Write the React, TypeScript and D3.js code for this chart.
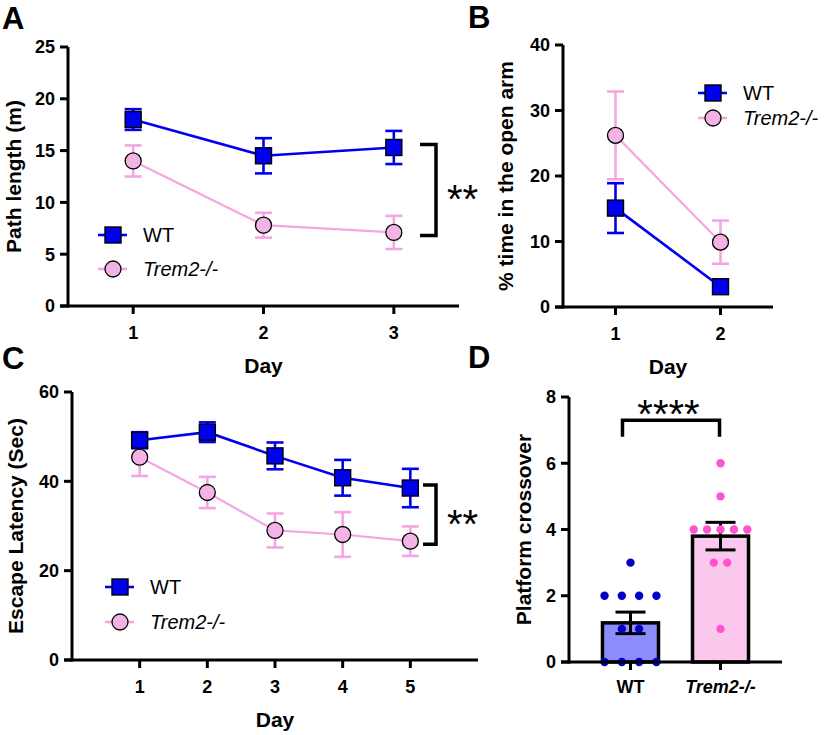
import React from 'react'
import * as d3 from 'd3'

// A: open field, path length (m)
const daysA = [1, 2, 3]
const pathWT = [18.0, 14.5, 15.3]
const pathWTsem = [1.0, 1.7, 1.6]
const pathKO = [14.0, 7.8, 7.1]
const pathKOsem = [1.5, 1.2, 1.6]
const ticksA = [0, 5, 10, 15, 20, 25]

// B: elevated plus maze, % time in open arm
const daysB = [1, 2]
const openWT = [15.1, 3.1]
const openWTsem = [3.8, 0.5]
const openKO = [26.2, 9.9]
const openKOsem = [6.7, 3.3]
const ticksB = [0, 10, 20, 30, 40]

// C: water maze escape latency (sec)
const daysC = [1, 2, 3, 4, 5]
const latWT = [49.2, 51.0, 45.7, 40.8, 38.5]
const latWTsem = [1.8, 2.2, 3.0, 4.0, 4.3]
const latKO = [45.4, 37.5, 29.0, 28.1, 26.6]
const latKOsem = [4.2, 3.5, 3.8, 5.0, 3.3]
const ticksC = [0, 20, 40, 60]

// D: platform crossover, individual animals
const groupsD = ['WT', 'Trem2-/-']
const crossWT = [3, 2, 2, 2, 2, 1, 1, 0, 0, 0, 0]
const crossKO = [6, 5, 4, 4, 4, 4, 4, 3, 3, 1]
const ticksD = [0, 2, 4, 6, 8]

const FONT = "'Liberation Sans', Arial, Helvetica, sans-serif"
const BLUE = '#0000f0'
const PINK = '#f5a6e2'
const PINK_FILL = '#f4b3e5'
const DOT_WT = '#0000c8'
const DOT_KO = '#ff52cf'
const BAR_WT = '#8c8cff'
const BAR_KO = '#f9c8ec'

type Series = {
  name: string
  mean: number[]
  sem: number[]
  kind: 'square' | 'circle'
}

const Marker = ({ kind, cx, cy }: { kind: string; cx: number; cy: number }) =>
  kind === 'square' ? (
    <rect x={cx - 8} y={cy - 8} width={16} height={16} fill={BLUE} stroke="#000" strokeWidth={1.4} />
  ) : (
    <circle cx={cx} cy={cy} r={8} fill={PINK_FILL} stroke="#000" strokeWidth={1.3} />
  )

interface LineProps {
  letter: string
  letterX: number
  letterY: number
  xRange: [number, number]
  yRange: [number, number]
  xDomain: [number, number]
  yDomain: [number, number]
  days: number[]
  yTicks: number[]
  yTitle: string
  yTitleX: number
  series: Series[]
  legendX: number
  legendY: number
  legendGap: number
  bracketX?: [number, number]
}

const LinePanel = (p: LineProps) => {
  const x = d3.scaleLinear().domain(p.xDomain).range(p.xRange)
  const y = d3.scaleLinear().domain(p.yDomain).range(p.yRange)
  const x0 = p.xRange[0]
  const yb = p.yRange[0]
  const yt = p.yRange[1]

  const line = d3.line<number>().x((_, i) => x(p.days[i])).y(d => y(d))

  // draw knockout first so WT sits on top
  const order = [...p.series].reverse()

  return (
    <g fontFamily={FONT}>
      <text x={p.letterX} y={p.letterY} fontSize={31} fontWeight="bold">{p.letter}</text>

      {/* axes */}
      <line x1={x0} x2={x0} y1={yt} y2={yb + 1.5} stroke="#000" strokeWidth={3} />
      <line x1={x0 - 8} x2={p.xRange[1]} y1={yb} y2={yb} stroke="#000" strokeWidth={3} />
      {p.yTicks.map(t => (
        <g key={t}>
          <line x1={x0 - 8} x2={x0} y1={y(t)} y2={y(t)} stroke="#000" strokeWidth={3} />
          <text x={x0 - 13} y={y(t)} dy="0.36em" textAnchor="end" fontSize={18} fontWeight="bold">{t}</text>
        </g>
      ))}
      {p.days.map(d => (
        <g key={d}>
          <line x1={x(d)} x2={x(d)} y1={yb} y2={yb + 8} stroke="#000" strokeWidth={3} />
          <text x={x(d)} y={yb + 27} dy="0.36em" textAnchor="middle" fontSize={18} fontWeight="bold">{d}</text>
        </g>
      ))}
      <text x={(p.xRange[0] + p.xRange[1]) / 2} y={yb + 59} dy="0.36em" textAnchor="middle" fontSize={21} fontWeight="bold">Day</text>
      <text
        transform={`translate(${p.yTitleX},${(yt + yb) / 2}) rotate(-90)`}
        dy="0.36em"
        textAnchor="middle"
        fontSize={21}
        fontWeight="bold"
      >
        {p.yTitle}
      </text>

      {/* error bars, lines, markers */}
      {order.map(s => {
        const col = s.kind === 'square' ? BLUE : PINK
        return (
          <g key={s.name}>
            {s.mean.map((m, i) => (
              <g key={i} stroke={col} strokeWidth={2.6}>
                <line x1={x(p.days[i])} x2={x(p.days[i])} y1={y(m - s.sem[i])} y2={y(m + s.sem[i])} />
                <line x1={x(p.days[i]) - 8.5} x2={x(p.days[i]) + 8.5} y1={y(m - s.sem[i])} y2={y(m - s.sem[i])} />
                <line x1={x(p.days[i]) - 8.5} x2={x(p.days[i]) + 8.5} y1={y(m + s.sem[i])} y2={y(m + s.sem[i])} />
              </g>
            ))}
            <path d={line(s.mean) || ''} fill="none" stroke={col} strokeWidth={s.kind === 'square' ? 2.6 : 2.2} />
            {s.mean.map((m, i) => (
              <Marker key={i} kind={s.kind} cx={x(p.days[i])} cy={y(m)} />
            ))}
          </g>
        )
      })}

      {/* legend */}
      {p.series.map((s, i) => {
        const ly = p.legendY + i * p.legendGap
        const col = s.kind === 'square' ? BLUE : PINK
        return (
          <g key={s.name}>
            <line x1={p.legendX - 15} x2={p.legendX + 14} y1={ly} y2={ly} stroke={col} strokeWidth={2.6} />
            <Marker kind={s.kind} cx={p.legendX} cy={ly} />
            <text
              x={p.legendX + 30}
              y={ly}
              dy="0.36em"
              fontSize={20}
              fontStyle={s.kind === 'circle' ? 'italic' : 'normal'}
            >
              {s.name}
            </text>
          </g>
        )
      })}

      {/* significance bracket */}
      {p.bracketX && (() => {
        const top = y(p.series[0].mean[p.series[0].mean.length - 1]) - 3
        const bot = y(p.series[1].mean[p.series[1].mean.length - 1]) + 3
        const [bx0, bx1] = p.bracketX
        return (
          <g>
            <path d={`M${bx0},${top}H${bx1}V${bot}H${bx0}`} fill="none" stroke="#000" strokeWidth={3.5} />
            <text x={bx1 + 11} y={(top + bot) / 2 + 23} fontSize={40}>**</text>
          </g>
        )
      })()}
    </g>
  )
}

const mean = (v: number[]) => d3.mean(v) as number
const sem = (v: number[]) => (d3.deviation(v) as number) / Math.sqrt(v.length)

const BarPanel = () => {
  const xr: [number, number] = [569, 782]
  const yr: [number, number] = [662, 397]
  const x = d3.scalePoint<string>().domain(groupsD).range(xr).padding(0.683)
  const y = d3.scaleLinear().domain([0, 8]).range(yr)
  const barW = 56
  const groups = [
    { name: groupsD[0], vals: crossWT, fill: BAR_WT, dot: DOT_WT, step: 17.3 },
    { name: groupsD[1], vals: crossKO, fill: BAR_KO, dot: DOT_KO, step: 13.4 },
  ]
  const x0 = xr[0]
  const yb = yr[0]

  return (
    <g fontFamily={FONT}>
      <text x={468} y={368} fontSize={31} fontWeight="bold">D</text>

      {groups.map(g => {
        const cx = x(g.name) as number
        const m = mean(g.vals)
        const e = sem(g.vals)
        // spread equal values sideways
        const byVal = d3.group(g.vals, v => v)
        const dots: { v: number; dx: number }[] = []
        byVal.forEach((arr, v) => {
          arr.forEach((_, i) => dots.push({ v, dx: (i - (arr.length - 1) / 2) * g.step }))
        })
        return (
          <g key={g.name}>
            <rect x={cx - barW / 2} y={y(m)} width={barW} height={yb - y(m)} fill={g.fill} stroke="#000" strokeWidth={3.5} />
            <g stroke="#000" strokeWidth={3}>
              <line x1={cx} x2={cx} y1={y(m - e)} y2={y(m + e)} />
              <line x1={cx - 15} x2={cx + 15} y1={y(m - e)} y2={y(m - e)} />
              <line x1={cx - 15} x2={cx + 15} y1={y(m + e)} y2={y(m + e)} />
            </g>
            {dots.map((d, i) => (
              <circle key={i} cx={cx + d.dx} cy={y(d.v)} r={4.2} fill={g.dot} />
            ))}
          </g>
        )
      })}

      {/* axes */}
      <line x1={x0} x2={x0} y1={yr[1]} y2={yb + 1.5} stroke="#000" strokeWidth={3} />
      <line x1={x0 - 8} x2={xr[1]} y1={yb} y2={yb} stroke="#000" strokeWidth={3} />
      {ticksD.map(t => (
        <g key={t}>
          <line x1={x0 - 8} x2={x0} y1={y(t)} y2={y(t)} stroke="#000" strokeWidth={3} />
          <text x={x0 - 13} y={y(t)} dy="0.36em" textAnchor="end" fontSize={18} fontWeight="bold">{t}</text>
        </g>
      ))}
      {groupsD.map((g, i) => (
        <g key={g}>
          <line x1={x(g) as number} x2={x(g) as number} y1={yb} y2={yb + 8} stroke="#000" strokeWidth={3} />
          <text
            x={x(g) as number}
            y={yb + 25}
            dy="0.36em"
            textAnchor="middle"
            fontSize={18}
            fontWeight="bold"
            fontStyle={i === 1 ? 'italic' : 'normal'}
          >
            {g}
          </text>
        </g>
      ))}
      <text
        transform={`translate(523,${(yr[0] + yr[1]) / 2}) rotate(-90)`}
        dy="0.36em"
        textAnchor="middle"
        fontSize={21}
        fontWeight="bold"
      >
        Platform crossover
      </text>

      {/* significance */}
      <path
        d={`M${(x(groupsD[0]) as number) - 8},${y(6.8)}V${y(7.3)}H${(x(groupsD[1]) as number) - 1}V${y(6.8)}`}
        fill="none"
        stroke="#000"
        strokeWidth={3.5}
      />
      <text x={((x(groupsD[0]) as number) + (x(groupsD[1]) as number)) / 2 - 7} y={y(7.75) + 23} textAnchor="middle" fontSize={40}>****</text>
    </g>
  )
}

export default function App() {
  const seriesA: Series[] = [
    { name: 'WT', mean: pathWT, sem: pathWTsem, kind: 'square' },
    { name: 'Trem2-/-', mean: pathKO, sem: pathKOsem, kind: 'circle' },
  ]
  const seriesB: Series[] = [
    { name: 'WT', mean: openWT, sem: openWTsem, kind: 'square' },
    { name: 'Trem2-/-', mean: openKO, sem: openKOsem, kind: 'circle' },
  ]
  const seriesC: Series[] = [
    { name: 'WT', mean: latWT, sem: latWTsem, kind: 'square' },
    { name: 'Trem2-/-', mean: latKO, sem: latKOsem, kind: 'circle' },
  ]
  return (
    <div style={{ position: 'absolute', left: 0, top: 0 }}>
      <svg width={828} height={735} style={{ display: 'block', background: '#fff' }}>
        <LinePanel
          letter="A" letterX={2} letterY={29}
          xRange={[68, 459]} yRange={[306, 47]}
          xDomain={[0.5, 3.5]} yDomain={[0, 25]}
          days={daysA} yTicks={ticksA}
          yTitle="Path length (m)" yTitleX={13}
          series={seriesA}
          legendX={113} legendY={235} legendGap={34}
          bracketX={[420, 436]}
        />
        <LinePanel
          letter="B" letterX={468} letterY={28}
          xRange={[563, 773]} yRange={[307, 45]}
          xDomain={[0.5, 2.5]} yDomain={[0, 40]}
          days={daysB} yTicks={ticksB}
          yTitle="% time in the open arm" yTitleX={505}
          series={seriesB}
          legendX={713} legendY={93} legendGap={25}
        />
        <LinePanel
          letter="C" letterX={2} letterY={369}
          xRange={[72, 478]} yRange={[660, 392]}
          xDomain={[0, 6]} yDomain={[0, 60]}
          days={daysC} yTicks={ticksC}
          yTitle="Escape Latency (Sec)" yTitleX={15}
          series={seriesC}
          legendX={120} legendY={587} legendGap={35}
          bracketX={[423, 436]}
        />
        <BarPanel />
      </svg>
    </div>
  )
}
